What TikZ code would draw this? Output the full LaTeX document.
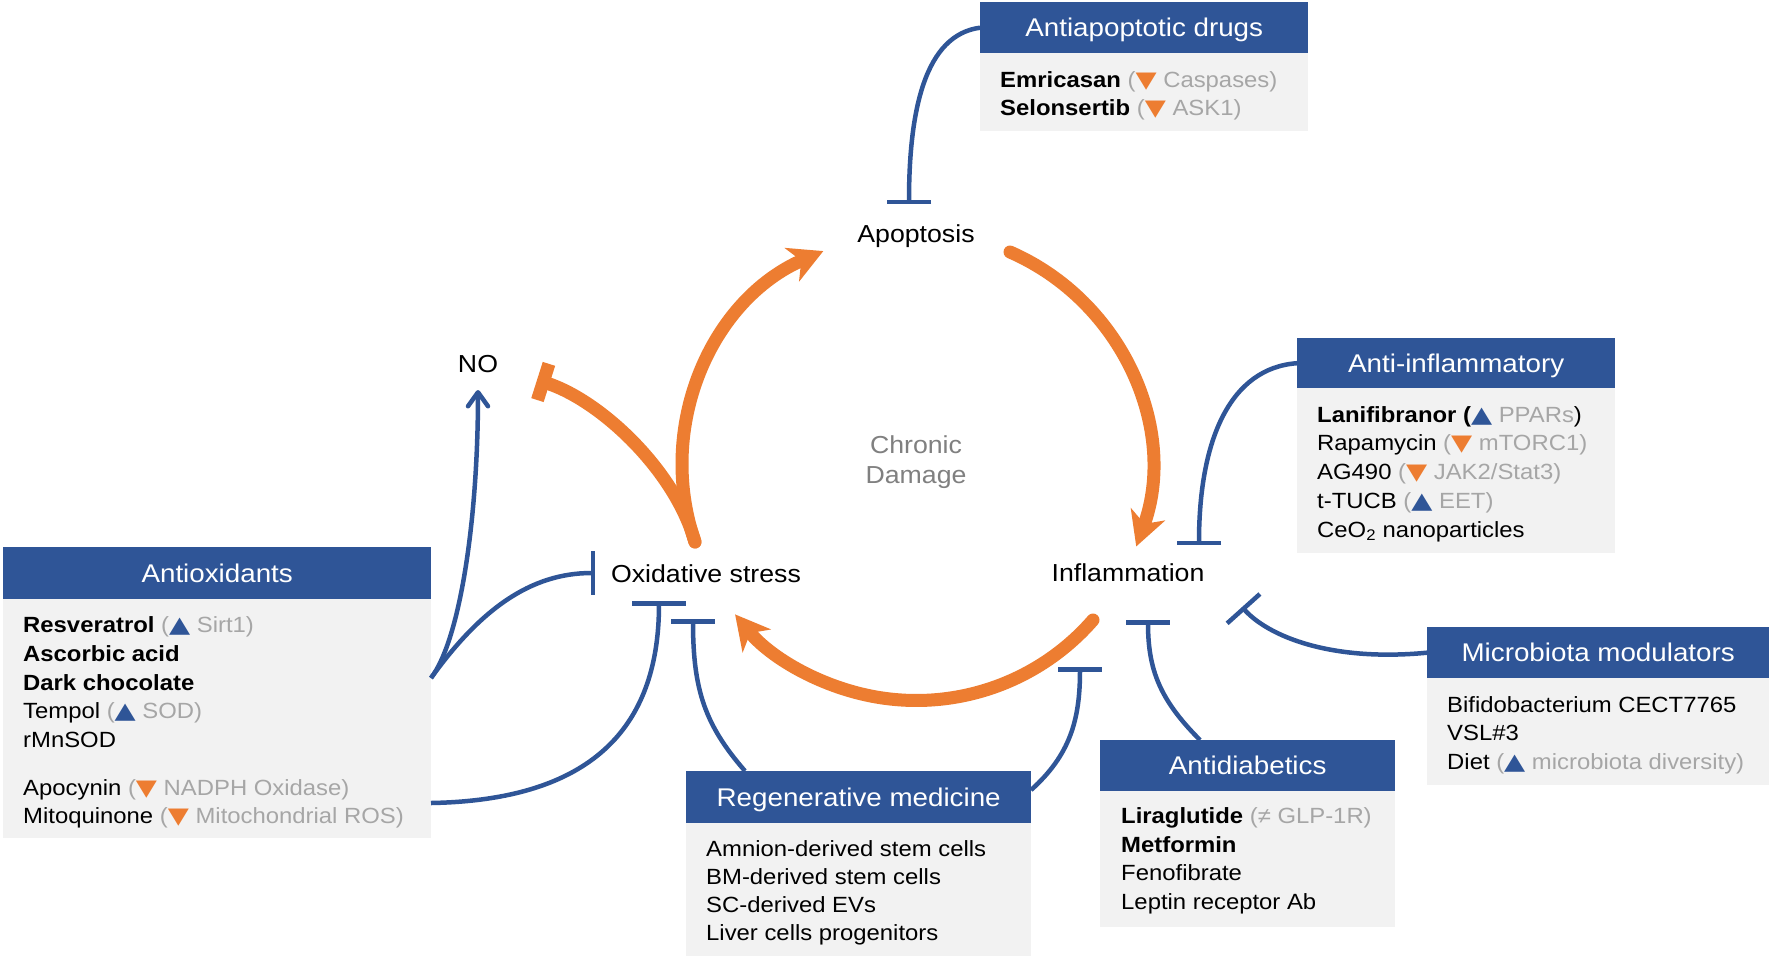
\documentclass[tikz,border=0pt]{standalone}
\usepackage{fontspec}
\setmainfont{Liberation Sans}[FakeStretch=1.085]
\newfontfamily\symf{DejaVu Sans}[FakeStretch=1.22]
\usetikzlibrary{arrows.meta}
\definecolor{hblue}{HTML}{2F5597}
\definecolor{oran}{HTML}{ED7D31}
\definecolor{bgray}{HTML}{F2F2F2}
\definecolor{tgray}{HTML}{A6A6A6}
\definecolor{cgray}{HTML}{808080}
\newcommand\greyt[1]{{\color{tgray}#1}}
\newcommand\upT{{\color{hblue}\symf\fontsize{22.5}{22}\selectfont ▲}}
\newcommand\dnT{{\color{oran}\symf\fontsize{22.5}{22}\selectfont ▼}}
\newcommand\bodyfont{\fontsize{22}{29}\selectfont}
\newcommand\hdrfont{\fontsize{25.6}{30}\selectfont}
\newcommand\lblfont{\fontsize{24.6}{30}\selectfont}
\begin{document}
\begin{tikzpicture}[x=1pt,y=-1pt,
  hdr/.style={fill=hblue, text=white, font=\hdrfont, inner sep=0pt, anchor=north west, text height=18.3pt, text depth=0pt},
  bodybox/.style={fill=bgray, inner sep=0pt, anchor=north west},
  item/.style={anchor=base west, font=\bodyfont, inner sep=0pt},
  lbl/.style={anchor=base, font=\lblfont, inner sep=0pt},
  oline/.style={draw=oran, line width=13pt, line cap=round},
  bline/.style={draw=hblue, line width=4.5pt},
  oarrow/.style={-{Stealth[length=34pt, width=36pt, inset=10pt]}},
  otee/.style={-{Bar[width=38pt]}},
  btee/.style={-{Bar[width=44pt]}},
  barrow/.style={-{Straight Barb[length=14pt, width=20pt, round]}}]
\fill[white] (0,0) rectangle (1769,956);
\useasboundingbox (0,0) rectangle (1769,956);

% ---------- boxes ----------
\node[bodybox, minimum width=328pt, minimum height=78pt] (aapB) at (980,53) {};
\node[hdr, minimum width=328pt, minimum height=51pt] (aapH) at (980,2) {Antiapoptotic drugs};
\node[item] (aap1) at (1000,87) {\textbf{Emricasan} \greyt{(}\dnT\ \greyt{Caspases)}};
\node[item] (aap2) at (1000,115) {\textbf{Selonsertib} \greyt{(}\dnT\ \greyt{ASK1)}};

\node[bodybox, minimum width=318pt, minimum height=165pt] (aiB) at (1297,388) {};
\node[hdr, minimum width=318pt, minimum height=50pt] (aiH) at (1297,338) {Anti-inflammatory};
\node[item] (ai1) at (1317,422) {\textbf{Lanifibranor (}\upT\ \greyt{PPARs})};
\node[item] (ai2) at (1317,450) {Rapamycin \greyt{(}\dnT\ \greyt{mTORC1)}};
\node[item] (ai3) at (1317,479) {AG490 \greyt{(}\dnT\ \greyt{JAK2/Stat3)}};
\node[item] (ai4) at (1317,508) {t-TUCB \greyt{(}\upT\ \greyt{EET)}};
\node[item] (ai5) at (1317,537) {CeO\textsubscript{2} nanoparticles};

\node[bodybox, minimum width=342pt, minimum height=107pt] (mbB) at (1427,678) {};
\node[hdr, minimum width=342pt, minimum height=51pt] (mbH) at (1427,627) {Microbiota modulators};
\node[item] (mb1) at (1447,712) {Bifidobacterium CECT7765};
\node[item] (mb2) at (1447,740) {VSL\#3};
\node[item] (mb3) at (1447,769) {Diet \greyt{(}\upT\ \greyt{microbiota diversity)}};

\node[bodybox, minimum width=345pt, minimum height=133pt] (rgB) at (686,823) {};
\node[hdr, minimum width=345pt, minimum height=52pt] (rgH) at (686,771) {Regenerative medicine};
\node[item] (rg1) at (706,856) {Amnion-derived stem cells};
\node[item] (rg2) at (706,884) {BM-derived stem cells};
\node[item] (rg3) at (706,912) {SC-derived EVs};
\node[item] (rg4) at (706,940) {Liver cells progenitors};

\node[bodybox, minimum width=295pt, minimum height=136pt] (adB) at (1100,791) {};
\node[hdr, minimum width=295pt, minimum height=51pt] (adH) at (1100,740) {Antidiabetics};
\node[item] (ad1) at (1121,823) {\textbf{Liraglutide} \greyt{(≠ GLP-1R)}};
\node[item] (ad2) at (1121,852) {\textbf{Metformin}};
\node[item] (ad3) at (1121,880) {Fenofibrate};
\node[item] (ad4) at (1121,909) {Leptin receptor Ab};

\node[bodybox, minimum width=428pt, minimum height=239pt] (aoxB) at (3,599) {};
\node[hdr, minimum width=428pt, minimum height=52pt] (aoxH) at (3,547) {Antioxidants};
\node[item] (aox1) at (23,632) {\textbf{Resveratrol} \greyt{(}\upT\ \greyt{Sirt1)}};
\node[item] (aox2) at (23,661) {\textbf{Ascorbic acid}};
\node[item] (aox3) at (23,690) {\textbf{Dark chocolate}};
\node[item] (aox4) at (23,718) {Tempol \greyt{(}\upT\ \greyt{SOD)}};
\node[item] (aox5) at (23,747) {rMnSOD};
\node[item] (aox6) at (23,795) {Apocynin \greyt{(}\dnT\ \greyt{NADPH Oxidase)}};
\node[item] (aox7) at (23,823) {Mitoquinone \greyt{(}\dnT\ \greyt{Mitochondrial ROS)}};

% ---------- labels ----------
\node[lbl] (apop) at (916,242) {Apoptosis};
\node[lbl] (infl) at (1128,581) {Inflammation};
\node[lbl] (oxs) at (706,582) {Oxidative stress};
\node[lbl] (no) at (478,372) {NO};
\node[lbl, text=cgray] (chr1) at (916,453) {Chronic};
\node[lbl, text=cgray] (chr2) at (916,483) {Damage};

% ---------- coordinates ----------
\coordinate (oxA) at (695,542);
\coordinate (apA) at (1010,252);
\coordinate (inA) at (1093,620);
\coordinate (noT) at (537,380);
\coordinate (tApop) at (909,204);
\coordinate (tInfl1) at (1199,545);
\coordinate (tInfl2) at (1242,607);
\coordinate (tInfl3) at (1148,620);
\coordinate (tInfl4) at (1080,667);
\coordinate (tOx1) at (659,601);
\coordinate (tOx2) at (693,619);
\coordinate (tOx3) at (595,573);
\coordinate (noB) at (478,390);
\coordinate (adTop) at (1200,740);
\coordinate (rgR) at (1031,790);
\coordinate (rgTop) at (745,771);
\coordinate (aoxR1) at (431,678);
\coordinate (aoxR2) at (431,803);

% ---------- orange cycle ----------
\draw[oline, oarrow] (oxA) arc[start angle=-199, end angle=-113.4, radius=234];
\draw[oline, oarrow] (apA) arc[start angle=-66.4, end angle=20, radius=234];
\draw[oline, oarrow] (inA) arc[start angle=41, end angle=140.8, radius=234];
\draw[oline, otee] (oxA) .. controls (675,470) and (600,400) .. (noT);

% ---------- blue connectors ----------
\draw[bline, btee] (aapH.west) .. controls (925,35) and (909,110) .. (tApop);
\draw[bline, btee] (aiH.west) .. controls (1230,368) and (1199,440) .. (tInfl1);
\draw[bline, btee] (mbH.west) .. controls (1330,662) and (1268,636) .. (tInfl2);
\draw[bline, btee] (adTop) .. controls (1160,700) and (1148,670) .. (tInfl3);
\draw[bline, btee] (rgR) .. controls (1070,755) and (1080,720) .. (tInfl4);
\draw[bline, btee] (rgTop) .. controls (705,725) and (693,690) .. (tOx2);
\draw[bline, -{Bar[width=54pt]}] (aoxR2) .. controls (600,800) and (659,720) .. (tOx1);
\draw[bline, btee] (aoxR1) .. controls (480,610) and (530,573) .. (tOx3);
\draw[bline, barrow] (aoxR1) .. controls (460,640) and (478,520) .. (noB);
\end{tikzpicture}
\end{document}
